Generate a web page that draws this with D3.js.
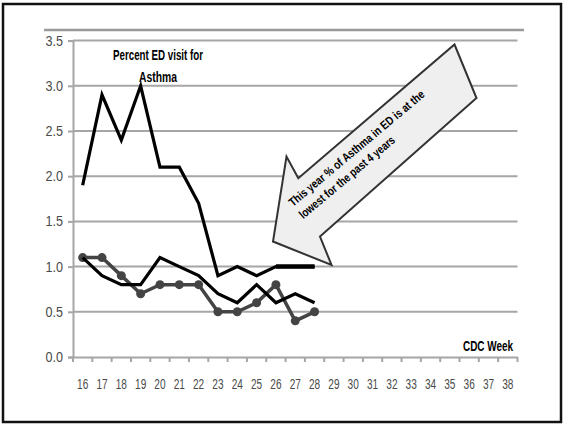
<!DOCTYPE html>
<html lang="en">
<head>
<meta charset="UTF-8">
<title>Percent ED visit for Asthma</title>
<script src="https://cdn.jsdelivr.net/npm/d3@7"></script>
<style>
    body { margin: 0; background: #fff; }
    svg { display: block; }
    .lbl { font-family: "Liberation Sans", Arial, sans-serif; }
</style>
</head>
<body>
<script>

// DATA
const weeks = d3.range(16, 39).map(String)
const yTicks = [0, 0.5, 1.0, 1.5, 2.0, 2.5, 3.0, 3.5]
const seriesA = [1.9, 2.9, 2.4, 3.0, 2.1, 2.1, 1.7, 0.9, 1.0, 0.9, 1.0, 1.0, 1.0]
const seriesB = [1.1, 0.9, 0.8, 0.8, 1.1, 1.0, 0.9, 0.7, 0.6, 0.8, 0.6, 0.7, 0.6]
const seriesC = [1.1, 1.1, 0.9, 0.7, 0.8, 0.8, 0.8, 0.5, 0.5, 0.6, 0.8, 0.4, 0.5]
const seriesD = [null, null, null, null, null, null, null, null, null, null, 1.0, 1.0, 1.0]
const titleLines = ["Percent ED visit for", "Asthma"]
const noteLines = ["This year % of Asthma in ED is at the", "lowest for the past 4 years"]

const W = 564, H = 424

let svg = d3.select("body").append("svg").attr("width", W).attr("height", H)

// frame
svg.append("rect").attr("x", 3).attr("y", 4).attr("width", 558).attr("height", 418)
    .attr("fill", "#fff").attr("stroke", "#111").attr("stroke-width", 2.5)

// top rule
svg.append("line").attr("x1", 44).attr("x2", 524).attr("y1", 30).attr("y2", 30)
    .attr("stroke", "#999").attr("stroke-width", 2.5)

// SCALES
let x = d3.scaleBand().domain(weeks).range([73, 517.5])
let y = d3.scaleLinear().domain([0, 3.5]).range([357, 40.6])
let cx = d => x(d) + x.bandwidth() / 2

// GRIDLINES
svg.append("g").selectAll("line").data(yTicks.slice(1)).join("line")
    .attr("x1", 73).attr("x2", 517.5)
    .attr("y1", d => y(d)).attr("y2", d => y(d))
    .attr("stroke", "#a6a6a6").attr("stroke-width", 2)

// AXES
let yAxis = svg.append("g").attr("transform", "translate(73,0)")
    .call(d3.axisLeft(y).tickValues(yTicks).tickFormat(d3.format(".1f")).tickSize(5).tickPadding(6))
yAxis.selectAll("text").attr("class", "lbl").style("font-size", "14px").attr("fill", "#4a4a4a")
    .attr("transform", "scale(0.9,1)")

let xAxis = svg.append("g").attr("transform", "translate(0,357)")
    .call(d3.axisBottom(x).tickSize(0).tickPadding(22))
xAxis.selectAll("text").attr("class", "lbl").style("font-size", "14px").attr("fill", "#4a4a4a")
    .attr("transform", "scale(0.72,1)")
// ticks between categories
xAxis.selectAll(".btick").data(weeks.concat(["end"])).join("line")
    .attr("class", "btick")
    .attr("x1", d => d === "end" ? 517.5 : x(d)).attr("x2", d => d === "end" ? 517.5 : x(d))
    .attr("y1", 0).attr("y2", 5).attr("stroke", "#a6a6a6").attr("stroke-width", 2)

svg.selectAll(".domain").attr("stroke", "#a6a6a6").attr("stroke-width", 2)
svg.selectAll(".tick line").attr("stroke", "#a6a6a6").attr("stroke-width", 2)

// LINES
let line = d3.line()
    .defined(d => d.v != null)
    .x(d => cx(d.w))
    .y(d => y(d.v))
let toPts = arr => arr.map((v, i) => ({w: weeks[i], v: v}))

svg.append("path").datum(toPts(seriesC)).attr("d", line)
    .attr("fill", "none").attr("stroke", "#444").attr("stroke-width", 3.5)
svg.append("g").selectAll("circle").data(toPts(seriesC)).join("circle")
    .attr("cx", d => cx(d.w)).attr("cy", d => y(d.v)).attr("r", 4.5).attr("fill", "#444")

svg.append("path").datum(toPts(seriesB)).attr("d", line)
    .attr("fill", "none").attr("stroke", "#000").attr("stroke-width", 3.2)
svg.append("path").datum(toPts(seriesA)).attr("d", line)
    .attr("fill", "none").attr("stroke", "#000").attr("stroke-width", 3.2)
svg.append("path").datum(toPts(seriesD)).attr("d", line)
    .attr("fill", "none").attr("stroke", "#000").attr("stroke-width", 4.5)

// TITLE
let titleW = [90, 38]
svg.append("text").attr("class", "lbl").attr("y", 60)
    .attr("text-anchor", "middle").style("font-size", "14px").style("font-weight", "bold")
    .selectAll("tspan").data(titleLines).join("tspan")
    .attr("x", 158).attr("dy", (d, i) => i ? 21.5 : 0)
    .attr("textLength", (d, i) => titleW[i]).attr("lengthAdjust", "spacingAndGlyphs")
    .text(d => d)

svg.append("text").attr("class", "lbl").attr("x", 463).attr("y", 350.5)
    .style("font-size", "14px").style("font-weight", "bold")
    .attr("textLength", 50).attr("lengthAdjust", "spacingAndGlyphs")
    .text("CDC Week")

// ARROW CALLOUT
let arrowPts = [[454.5, 44.5], [476.5, 98], [320, 236.5], [331.5, 265], [273, 241.5], [286.5, 156.5], [298.3, 178.3]]
svg.append("polygon").attr("points", arrowPts.map(p => p.join(",")).join(" "))
    .attr("fill", "#efefef").attr("stroke", "#333").attr("stroke-width", 2)

let noteW = [173, 121]
svg.append("g").attr("transform", "translate(293,207) rotate(-40)")
    .append("text").attr("class", "lbl")
    .style("font-size", "12px").style("font-weight", "bold")
    .selectAll("tspan").data(noteLines).join("tspan")
    .attr("x", 0).attr("dy", (d, i) => i ? 16 : 0)
    .attr("textLength", (d, i) => noteW[i]).attr("lengthAdjust", "spacingAndGlyphs")
    .text(d => d)

</script>
</body>
</html>
